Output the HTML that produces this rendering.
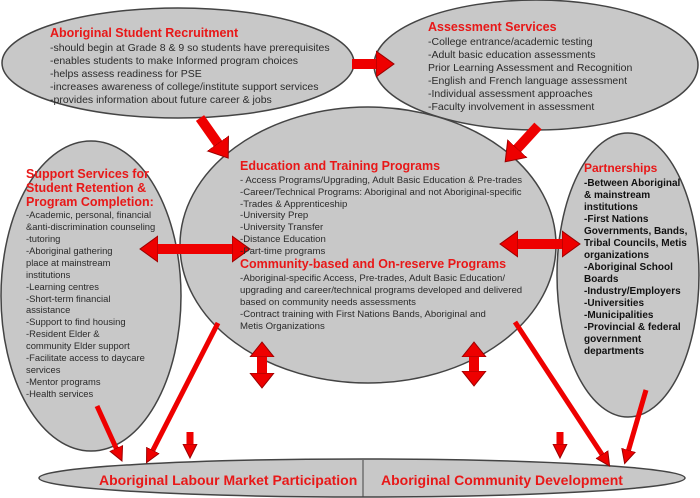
<!DOCTYPE html>
<html><head><meta charset="utf-8"><style>
html,body{margin:0;padding:0;background:#fff;}
svg{display:block;}
text{font-family:"Liberation Sans",Arial,sans-serif;}
.t{fill:#e81818;font-weight:bold;}
.b{fill:#2a2a2a;font-size:10.5px;}
.p{fill:#111;font-size:10px;font-weight:bold;}
</style></head><body>
<svg width="700" height="498" viewBox="0 0 700 498" xmlns="http://www.w3.org/2000/svg">
<defs>
<marker id="hb" markerUnits="userSpaceOnUse" markerWidth="30" markerHeight="30" refX="2" refY="15" orient="auto-start-reverse" viewBox="0 0 30 30">
<path d="M0,2 L18,15 L0,28 Z" fill="#ee0000" stroke="#900" stroke-width="1"/></marker>
<marker id="hv" markerUnits="userSpaceOnUse" markerWidth="30" markerHeight="30" refX="2" refY="15" orient="auto-start-reverse" viewBox="0 0 30 30">
<path d="M0,3 L15,15 L0,27 Z" fill="#ee0000" stroke="#900" stroke-width="1"/></marker>
<marker id="hs" markerUnits="userSpaceOnUse" markerWidth="20" markerHeight="20" refX="2" refY="10" orient="auto-start-reverse" viewBox="0 0 20 20">
<path d="M0,3 L14,10 L0,17 Z" fill="#ee0000" stroke="#900" stroke-width="1"/></marker>
</defs>
<g fill="#c8c8c8" stroke="#444" stroke-width="1.5">
<ellipse cx="178" cy="63" rx="176" ry="55"/>
<ellipse cx="536" cy="65" rx="162" ry="65"/>
<ellipse cx="91" cy="296" rx="90" ry="155"/>
<ellipse cx="628" cy="275" rx="71" ry="142"/>
<ellipse cx="368" cy="245" rx="188" ry="138"/>
<ellipse cx="362" cy="478" rx="323" ry="19"/>
</g>
<line x1="363" y1="460" x2="363" y2="497" stroke="#444" stroke-width="1"/>

<g stroke="#ee0000" fill="none">
<line x1="352" y1="64" x2="378" y2="64" stroke-width="10" marker-end="url(#hb)"/>
<line x1="200" y1="118" x2="219" y2="145" stroke-width="10" marker-end="url(#hb)"/>
<line x1="538" y1="126" x2="516" y2="150" stroke-width="10" marker-end="url(#hb)"/>
<line x1="156" y1="249" x2="234" y2="249" stroke-width="10" marker-start="url(#hb)" marker-end="url(#hb)"/>
<line x1="516" y1="244" x2="564" y2="244" stroke-width="10" marker-start="url(#hb)" marker-end="url(#hb)"/>
<line x1="262" y1="355" x2="262" y2="375" stroke-width="10" marker-start="url(#hv)" marker-end="url(#hv)"/>
<line x1="474" y1="355" x2="474" y2="373" stroke-width="10" marker-start="url(#hv)" marker-end="url(#hv)"/>
<line x1="97" y1="406" x2="117" y2="450" stroke-width="5" marker-end="url(#hs)"/>
<line x1="218" y1="323" x2="152" y2="452" stroke-width="5" marker-end="url(#hs)"/>
<line x1="515" y1="322" x2="603" y2="456" stroke-width="5" marker-end="url(#hs)"/>
<line x1="646" y1="390" x2="628" y2="452" stroke-width="5" marker-end="url(#hs)"/>
<line x1="190" y1="432" x2="190" y2="446" stroke-width="7" marker-end="url(#hs)"/>
<line x1="560" y1="432" x2="560" y2="446" stroke-width="7" marker-end="url(#hs)"/>
</g>

<text class="t" x="50" y="37" font-size="12.5">Aboriginal Student Recruitment</text>
<g class="b">
<text x="50" y="51">-should begin at Grade 8 &amp; 9 so students have prerequisites</text>
<text x="50" y="64">-enables students to make Informed program choices</text>
<text x="50" y="77">-helps assess readiness for PSE</text>
<text x="50" y="90">-increases awareness of college/institute support services</text>
<text x="50" y="103">-provides information about future career &amp; jobs</text>
</g>

<text class="t" x="428" y="31" font-size="12.5">Assessment Services</text>
<g class="b">
<text x="428" y="45">-College entrance/academic testing</text>
<text x="428" y="58">-Adult basic education assessments</text>
<text x="428" y="71"> Prior Learning Assessment and Recognition</text>
<text x="428" y="84">-English and French language assessment</text>
<text x="428" y="97">-Individual assessment approaches</text>
<text x="428" y="110">-Faculty involvement in assessment</text>
</g>

<g class="t" font-size="12.5">
<text x="26" y="178">Support Services for</text>
<text x="26" y="192">Student Retention &amp;</text>
<text x="26" y="206">Program Completion:</text>
</g>
<g class="b" style="font-size:9.4px">
<text x="26" y="218">-Academic, personal, financial</text>
<text x="26" y="230">&amp;anti-discrimination counseling</text>
<text x="26" y="242">-tutoring</text>
<text x="26" y="254">-Aboriginal gathering</text>
<text x="26" y="266">place at mainstream</text>
<text x="26" y="278">institutions</text>
<text x="26" y="290">-Learning centres</text>
<text x="26" y="302">-Short-term financial</text>
<text x="26" y="313">assistance</text>
<text x="26" y="325">-Support to find housing</text>
<text x="26" y="337">-Resident Elder &amp;</text>
<text x="26" y="349">community Elder support</text>
<text x="26" y="361">-Facilitate access to daycare</text>
<text x="26" y="373">services</text>
<text x="26" y="385">-Mentor programs</text>
<text x="26" y="397">-Health services</text>
</g>

<text class="t" x="240" y="170" font-size="12.5">Education and Training Programs</text>
<g class="b" style="font-size:9.6px">
<text x="240" y="183">- Access Programs/Upgrading, Adult Basic Education &amp; Pre-trades</text>
<text x="240" y="195">-Career/Technical Programs: Aboriginal and not Aboriginal-specific</text>
<text x="240" y="207">-Trades &amp; Apprenticeship</text>
<text x="240" y="218">-University Prep</text>
<text x="240" y="230">-University Transfer</text>
<text x="240" y="242">-Distance Education</text>
<text x="240" y="254">-Part-time programs</text>
</g>
<text class="t" x="240" y="268" font-size="12.5">Community-based and On-reserve Programs</text>
<g class="b" style="font-size:9.6px">
<text x="240" y="281">-Aboriginal-specific Access, Pre-trades, Adult Basic Education/</text>
<text x="240" y="293"> upgrading and career/technical programs developed and delivered</text>
<text x="240" y="305">based on community needs assessments</text>
<text x="240" y="317">-Contract training with First Nations Bands, Aboriginal and</text>
<text x="240" y="329">Metis Organizations</text>
</g>

<text class="t" x="584" y="172" font-size="12">Partnerships</text>
<g class="p">
<text x="584" y="186">-Between Aboriginal</text>
<text x="584" y="198">&amp; mainstream</text>
<text x="584" y="210"> institutions</text>
<text x="584" y="222">-First Nations</text>
<text x="584" y="234">Governments, Bands,</text>
<text x="584" y="246">Tribal Councils, Metis</text>
<text x="584" y="258">organizations</text>
<text x="584" y="270">-Aboriginal School</text>
<text x="584" y="282">Boards</text>
<text x="584" y="294">-Industry/Employers</text>
<text x="584" y="306">-Universities</text>
<text x="584" y="318">-Municipalities</text>
<text x="584" y="330">-Provincial &amp; federal</text>
<text x="584" y="342">government</text>
<text x="584" y="354">departments</text>
</g>

<text class="t" x="99" y="485" font-size="14">Aboriginal Labour Market Participation</text>
<text class="t" x="381" y="485" font-size="14">Aboriginal Community Development</text>
</svg>
</body></html>
